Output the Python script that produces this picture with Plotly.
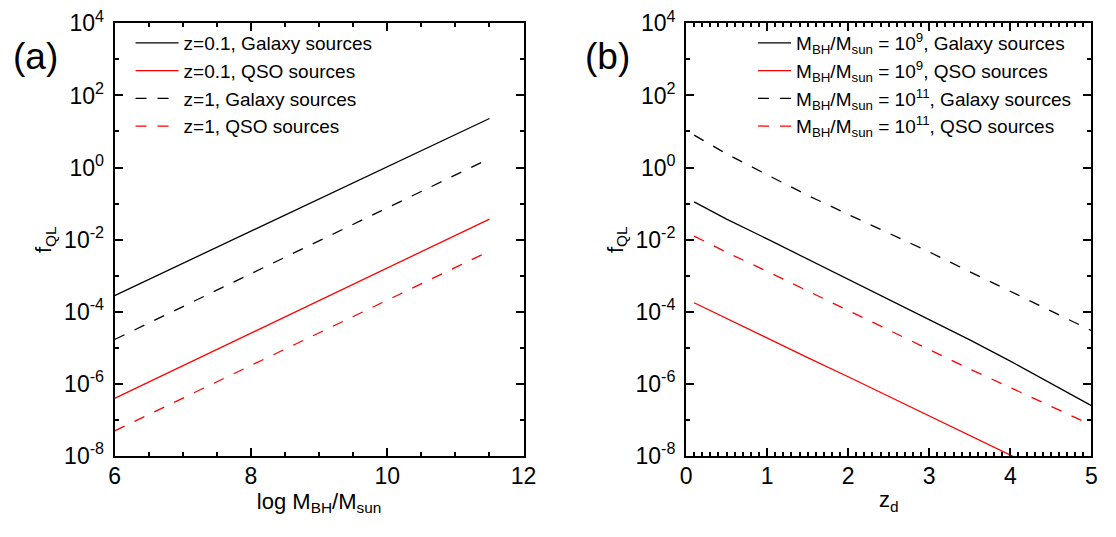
import plotly.graph_objects as go

# ---------------- data: panel (a) ----------------
log_mass = [6.0, 11.5]
fa_gal_z01 = [2.82e-4, 22.9]
fa_qso_z01 = [3.98e-7, 3.72e-2]
fa_gal_z1 = [1.70e-5, 1.78]
fa_qso_z1 = [5.0e-8, 4.79e-3]

# ---------------- data: panel (b) ----------------
z_d = [0.1, 0.5, 1.0, 1.5, 2.0, 2.5, 3.0, 3.5, 4.0, 4.5, 5.0]
fb_gal_m9 = [0.112, 0.0372, 0.0105, 2.88e-3, 7.76e-4, 2.14e-4, 6.03e-5, 1.66e-5, 4.27e-6, 1.02e-6, 2.51e-7]
fb_qso_m9 = [1.78e-4, 6.46e-5, 1.82e-5, 5.37e-6, 1.58e-6, 4.57e-7, 1.32e-7, 3.72e-8, 1.07e-8, 3.02e-9, 8.71e-10]
fb_gal_m11 = [7.94, 2.40, 0.631, 0.170, 0.0501, 0.0151, 4.57e-3, 1.29e-3, 3.63e-4, 1.02e-4, 3.02e-5]
fb_qso_m11 = [0.0126, 4.47e-3, 1.32e-3, 3.80e-4, 1.10e-4, 3.09e-5, 8.71e-6, 2.57e-6, 7.94e-7, 2.45e-7, 7.24e-8]

y_major = [1e-8, 1e-6, 1e-4, 1e-2, 1e0, 1e2, 1e4]
y_major_text = ["10<sup>-8</sup>", "10<sup>-6</sup>", "10<sup>-4</sup>", "10<sup>-2</sup>",
                "10<sup>0</sup>", "10<sup>2</sup>", "10<sup>4</sup>"]
y_minor = [1e-7, 1e-5, 1e-3, 1e-1, 1e1, 1e3]

FONT = "Liberation Sans, Arial, sans-serif"
DASH = "11px,11px"
W = 1.3

fig = go.Figure()
fig.add_trace(go.Scatter(x=log_mass, y=fa_gal_z01, mode="lines", name="z=0.1, Galaxy sources",
                         line=dict(color="black", width=W), xaxis="x", yaxis="y", legend="legend"))
fig.add_trace(go.Scatter(x=log_mass, y=fa_qso_z01, mode="lines", name="z=0.1, QSO sources",
                         line=dict(color="red", width=W), xaxis="x", yaxis="y", legend="legend"))
fig.add_trace(go.Scatter(x=log_mass, y=fa_gal_z1, mode="lines", name="z=1, Galaxy sources",
                         line=dict(color="black", width=W, dash=DASH), xaxis="x", yaxis="y", legend="legend"))
fig.add_trace(go.Scatter(x=log_mass, y=fa_qso_z1, mode="lines", name="z=1, QSO sources",
                         line=dict(color="red", width=W, dash=DASH), xaxis="x", yaxis="y", legend="legend"))
mlab = "M<sub>BH</sub>/M<sub>sun</sub> = "
fig.add_trace(go.Scatter(x=z_d, y=fb_gal_m9, mode="lines", name=mlab + "10<sup>9</sup>, Galaxy sources",
                         line=dict(color="black", width=W), xaxis="x2", yaxis="y2", legend="legend2"))
fig.add_trace(go.Scatter(x=z_d, y=fb_qso_m9, mode="lines", name=mlab + "10<sup>9</sup>, QSO sources",
                         line=dict(color="red", width=W), xaxis="x2", yaxis="y2", legend="legend2"))
fig.add_trace(go.Scatter(x=z_d, y=fb_gal_m11, mode="lines", name=mlab + "10<sup>11</sup>, Galaxy sources",
                         line=dict(color="black", width=W, dash=DASH), xaxis="x2", yaxis="y2", legend="legend2"))
fig.add_trace(go.Scatter(x=z_d, y=fb_qso_m11, mode="lines", name=mlab + "10<sup>11</sup>, QSO sources",
                         line=dict(color="red", width=W, dash=DASH), xaxis="x2", yaxis="y2", legend="legend2"))

PW, PH = 1116, 537
ydom = [1 - 465 / PH, 1 - 6.7 / PH]

common = dict(showline=True, linewidth=2, linecolor="black", mirror="ticks", ticks="inside",
              ticklen=8, tickwidth=2, tickcolor="black", showgrid=False, zeroline=False,
              tickfont=dict(family=FONT, size=23, color="black"),
              ticklabeloverflow="allow")
yaxis_common = dict(common, type="log", range=[-8, 4], tickmode="array", tickvals=y_major,
                    ticktext=y_major_text, ticklabelstandoff=4,
                    minor=dict(tickmode="array", tickvals=y_minor, ticks="inside", ticklen=4,
                               tickwidth=2, tickcolor="black"),
                    title=dict(text="f<sub>QL</sub>", font=dict(family=FONT, size=22, color="black"),
                               standoff=6))
leg_common = dict(xanchor="left", yanchor="top", bgcolor="rgba(0,0,0,0)", borderwidth=0,
                  tracegroupgap=0, font=dict(family=FONT, size=19, color="black"))

fig.update_layout(
    width=PW, height=PH, margin=dict(l=0, r=0, t=0, b=0),
    paper_bgcolor="white", plot_bgcolor="white", font=dict(family=FONT, color="black"),
    xaxis=dict(common, domain=[110.5 / PW, 526.5 / PW], range=[6, 12], tickmode="array",
               tickvals=[6, 8, 10, 12], ticklabelstandoff=-2,
               minor=dict(tick0=6, dtick=0.5, ticks="inside", ticklen=4, tickwidth=2, tickcolor="black"),
               title=dict(text="log M<sub>BH</sub>/M<sub>sun</sub>",
                          font=dict(family=FONT, size=22, color="black"), standoff=4), anchor="y"),
    yaxis=dict(yaxis_common, domain=ydom, anchor="x"),
    xaxis2=dict(common, domain=[691.8 / PW, 1104.2 / PW], range=[0, 5], tickmode="array",
                tickvals=[0, 1, 2, 3, 4, 5], ticklabelstandoff=-2,
                minor=dict(tick0=0, dtick=0.1, ticks="inside", ticklen=4, tickwidth=2, tickcolor="black"),
                title=dict(text="z<sub>d</sub>", font=dict(family=FONT, size=22, color="black"), standoff=4),
                anchor="y2"),
    yaxis2=dict(yaxis_common, domain=ydom, anchor="x2"),
    legend=dict(leg_common, x=126.7 / PW, y=1 - 7.5 / PH, itemwidth=43),
    legend2=dict(leg_common, x=760 / PW, y=1 - 7.5 / PH, itemwidth=33),
    annotations=[
        dict(text="(a)", x=30 / PW, y=1 - 42 / PH, xref="paper", yref="paper", showarrow=False,
             xanchor="center", yanchor="middle", font=dict(family=FONT, size=37, color="black")),
        dict(text="(b)", x=612 / PW, y=1 - 42 / PH, xref="paper", yref="paper", showarrow=False,
             xanchor="center", yanchor="middle", font=dict(family=FONT, size=37, color="black")),
    ],
)
fig.write_html("out.html",
               post_script="document.body.style.margin='0px';document.documentElement.style.margin='0px';")
